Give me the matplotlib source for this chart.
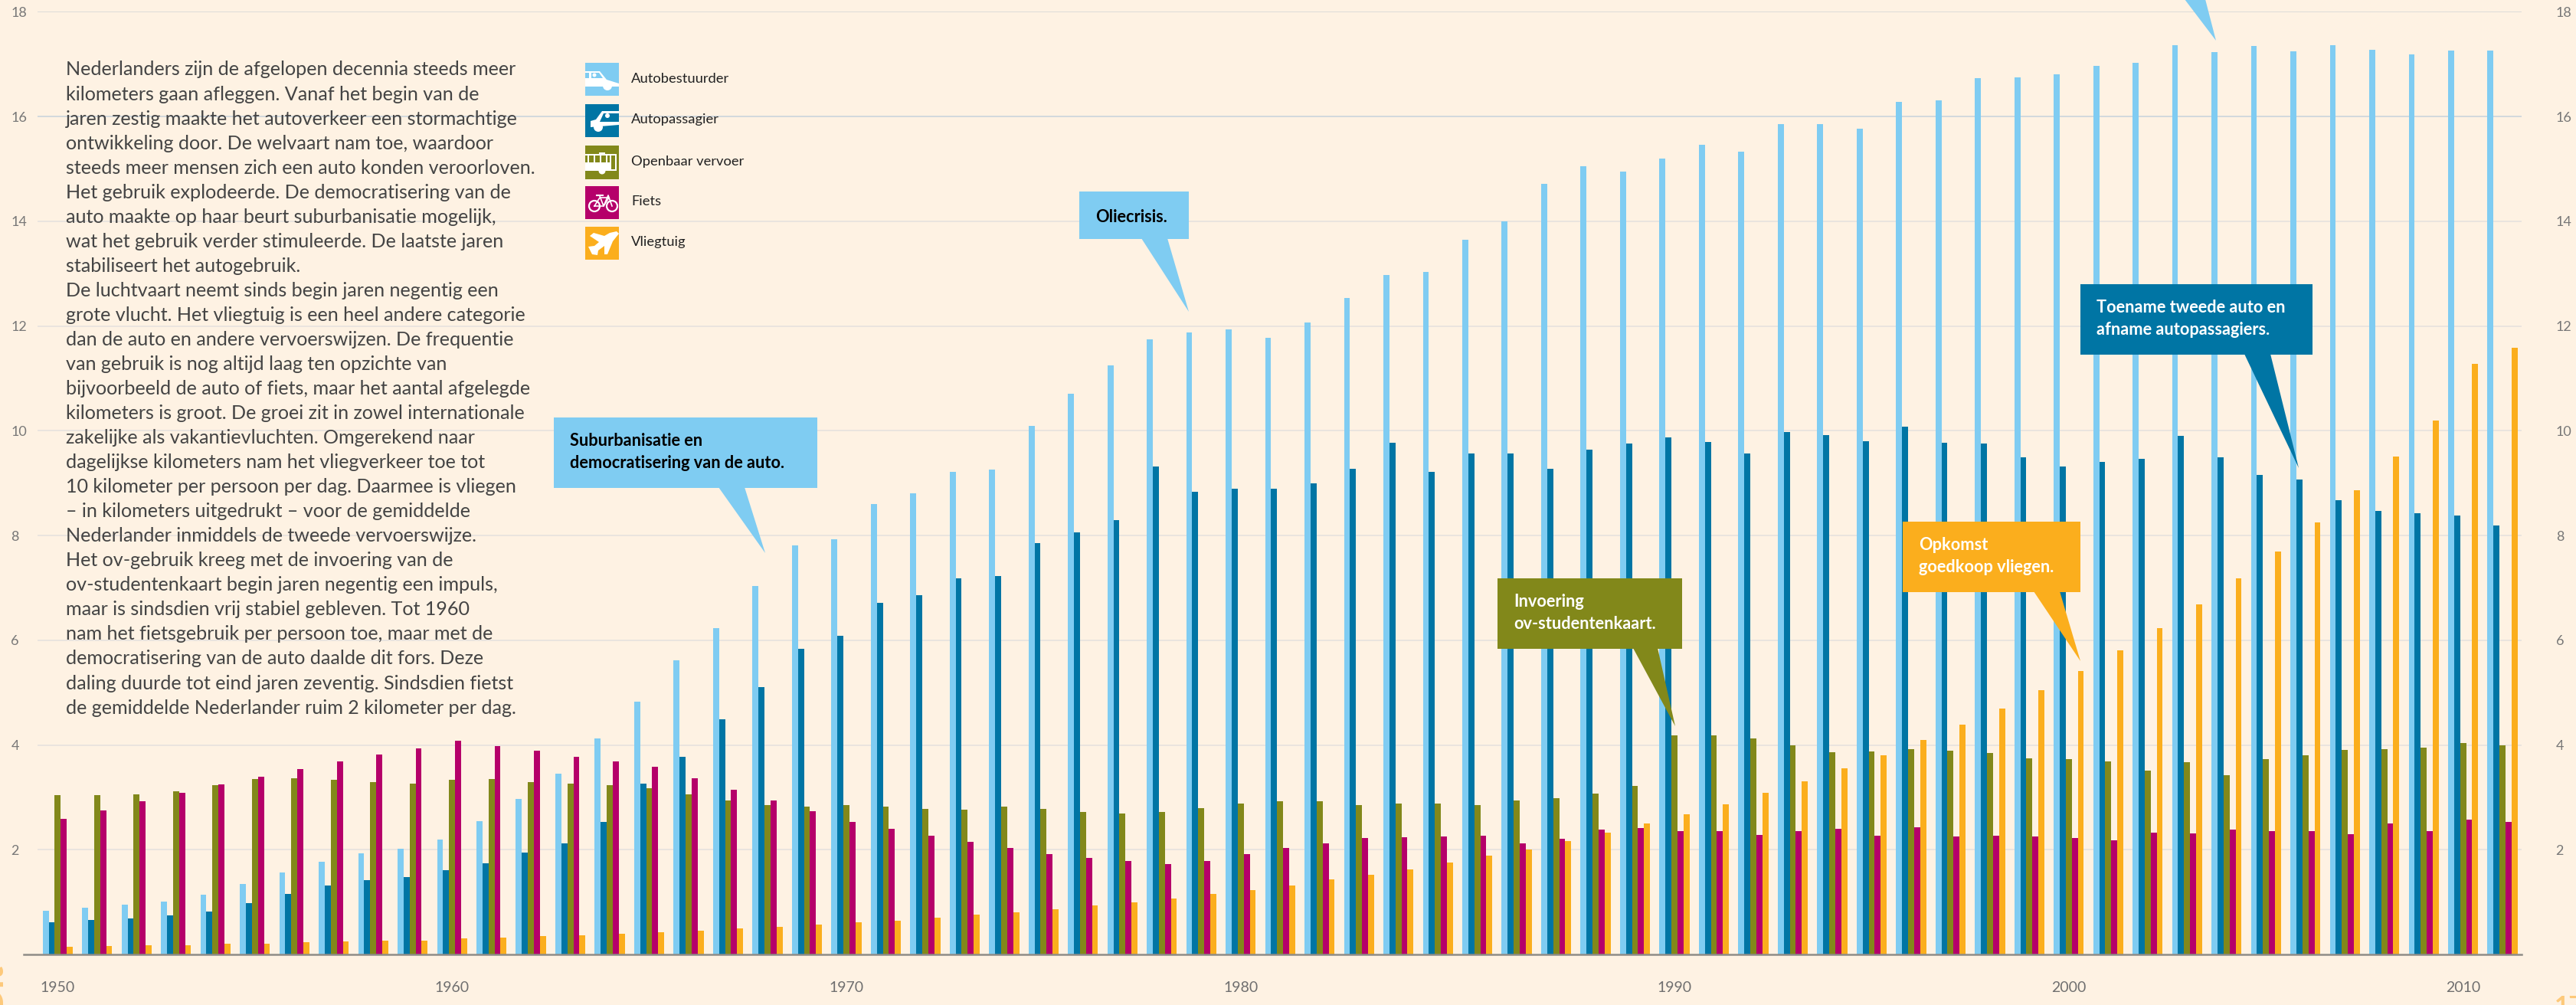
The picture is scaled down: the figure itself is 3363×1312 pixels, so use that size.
import numpy as np
import matplotlib
matplotlib.use("Agg")
import matplotlib.pyplot as plt
from matplotlib.patches import Polygon, Rectangle, Circle

W, H = 3363, 1312

# kilometers per persoon per dag (63 groepen)
autobestuurder = [0.83, 0.89, 0.95, 1.01, 1.14, 1.35, 1.57, 1.77, 1.93, 2.02, 2.20, 2.55, 2.97, 3.45, 4.12, 4.83,
                  5.61, 6.23, 7.03, 7.81, 7.93, 8.60, 8.81, 9.21, 9.26, 10.09,
                  10.70, 11.24, 11.74, 11.88, 11.93, 11.77, 12.07, 12.53, 12.98, 13.03,
                  13.65, 14.00, 14.71, 15.05, 14.95, 15.20, 15.46, 15.33, 15.85, 15.86, 15.76, 16.28, 16.31, 16.73, 16.75,
                  16.80, 16.97, 17.03, 17.36, 17.23, 17.34, 17.25, 17.36, 17.28, 17.19, 17.26, 17.26]
autopassagier = [0.62, 0.66, 0.69, 0.75, 0.82, 0.98, 1.15, 1.31, 1.42, 1.47, 1.61, 1.74, 1.94, 2.12, 2.53, 3.26, 3.78,
                 4.49, 5.11, 5.84, 6.08, 6.72, 6.86, 7.18, 7.23, 7.85, 8.06, 8.29, 9.31, 8.84, 8.89, 8.89, 9.00,
                 9.28, 9.77, 9.22, 9.56, 9.57, 9.28, 9.64,
                 9.75, 9.87, 9.78, 9.57, 9.97, 9.91, 9.80, 10.07, 9.77, 9.75, 9.49, 9.32, 9.40, 9.46, 9.90, 9.49,
                 9.15, 9.07, 8.68, 8.47, 8.43, 8.38, 8.19]
openbaar_vervoer = [3.04, 3.04, 3.06, 3.12, 3.23, 3.35, 3.37, 3.34, 3.29, 3.26, 3.34, 3.35, 3.29, 3.26, 3.23, 3.17,
                    3.06, 2.94, 2.85, 2.82, 2.85,
                    2.83, 2.78, 2.77, 2.83, 2.78, 2.72, 2.69, 2.72, 2.79, 2.88, 2.92, 2.93, 2.85, 2.88, 2.88, 2.85,
                    2.94, 2.98, 3.07, 3.22, 4.19,
                    4.19, 4.13, 3.99, 3.86, 3.87, 3.92, 3.89, 3.85, 3.74, 3.73, 3.69, 3.51, 3.67, 3.42, 3.73, 3.81,
                    3.91, 3.92, 3.95, 4.03, 3.99]
fiets = [2.59, 2.75, 2.92, 3.08, 3.25, 3.39, 3.54, 3.68, 3.82, 3.94, 4.08, 3.98, 3.89, 3.78, 3.68, 3.58, 3.36, 3.14,
         2.94, 2.74, 2.53,
         2.40, 2.27, 2.15, 2.03, 1.91, 1.84, 1.79, 1.73, 1.78, 1.92, 2.04, 2.12, 2.23, 2.24, 2.25, 2.26, 2.12, 2.21,
         2.38, 2.41, 2.35,
         2.35, 2.28, 2.36, 2.40, 2.26, 2.43, 2.25, 2.26, 2.25, 2.23, 2.18, 2.33, 2.31, 2.39, 2.35, 2.36, 2.29, 2.50,
         2.35, 2.57, 2.53]
vliegtuig = [0.15, 0.16, 0.17, 0.18, 0.20, 0.21, 0.23, 0.25, 0.26, 0.27, 0.30, 0.32, 0.35, 0.37, 0.40, 0.42, 0.46,
             0.49, 0.52, 0.57, 0.61,
             0.65, 0.70, 0.76, 0.80, 0.87, 0.93, 0.99, 1.07, 1.15, 1.23, 1.32, 1.43, 1.52, 1.63, 1.75, 1.88, 2.01,
             2.16, 2.33, 2.50, 2.68,
             2.87, 3.08, 3.31, 3.55, 3.81, 4.09, 4.39, 4.70, 5.05, 5.41, 5.81, 6.23, 6.68, 7.18, 7.69, 8.25, 8.86,
             9.51, 10.19, 11.27, 11.58]

series = [autobestuurder, autopassagier, openbaar_vervoer, fiets, vliegtuig]
namen = ["Autobestuurder", "Autopassagier", "Openbaar vervoer", "Fiets", "Vliegtuig"]
kleuren = ["#7FCCF2", "#0075A4", "#82881A", "#B5006A", "#FBAE1D"]

jaar_labels = ["1950", "1960", "1970", "1980", "1990", "2000", "2010"]
jaar_groepen = [0, 10, 20, 30, 41, 51, 61]
y_ticks = [2, 4, 6, 8, 10, 12, 14, 16, 18]
grid_kleuren = ["#E6E2DD"] * 7 + ["#CBD4DC", "#D8D8D6"]

tekst = [
    "Nederlanders zijn de afgelopen decennia steeds meer",
    "kilometers gaan afleggen. Vanaf het begin van de",
    "jaren zestig maakte het autoverkeer een stormachtige",
    "ontwikkeling door. De welvaart nam toe, waardoor",
    "steeds meer mensen zich een auto konden veroorloven.",
    "Het gebruik explodeerde. De democratisering van de",
    "auto maakte op haar beurt suburbanisatie mogelijk,",
    "wat het gebruik verder stimuleerde. De laatste jaren",
    "stabiliseert het autogebruik.",
    "De luchtvaart neemt sinds begin jaren negentig een",
    "grote vlucht. Het vliegtuig is een heel andere categorie",
    "dan de auto en andere vervoerswijzen. De frequentie",
    "van gebruik is nog altijd laag ten opzichte van",
    "bijvoorbeeld de auto of fiets, maar het aantal afgelegde",
    "kilometers is groot. De groei zit in zowel internationale",
    "zakelijke als vakantievluchten. Omgerekend naar",
    "dagelijkse kilometers nam het vliegverkeer toe tot",
    "10 kilometer per persoon per dag. Daarmee is vliegen",
    "\u2013 in kilometers uitgedrukt \u2013 voor de gemiddelde",
    "Nederlander inmiddels de tweede vervoerswijze.",
    "Het ov-gebruik kreeg met de invoering van de",
    "ov-studentenkaart begin jaren negentig een impuls,",
    "maar is sindsdien vrij stabiel gebleven. Tot 1960",
    "nam het fietsgebruik per persoon toe, maar met de",
    "democratisering van de auto daalde dit fors. Deze",
    "daling duurde tot eind jaren zeventig. Sindsdien fietst",
    "de gemiddelde Nederlander ruim 2 kilometer per dag.",
]

# box (x0, y0, x1, y1), pointer (basis links, basis rechts, punt), regels, kleur, tekstkleur (in pixels)
callouts = [
    ((723, 545, 1067, 637), (938, 972, (999, 722)), ["Suburbanisatie en", "democratisering van de auto."], 744, "#7FCCF2", "#000000"),
    ((1409, 250, 1552, 312), (1490, 1524, (1552, 407)), ["Oliecrisis."], 1430, "#7FCCF2", "#000000"),
    ((1955, 755, 2196, 847), (2132, 2164, (2187, 948)), ["Invoering", "ov-studentenkaart."], 1976, "#82881A", "#FFFFFF"),
    ((2484, 681, 2716, 773), (2655, 2689, (2716, 863)), ["Opkomst", "goedkoop vliegen."], 2505, "#FBAE1D", "#FFFFFF"),
    ((2716, 371, 3019, 463), (2930, 2964, (3001, 611)), ["Toename tweede auto en", "afname autopassagiers."], 2737, "#0075A4", "#FFFFFF"),
]

plt.rcParams["font.family"] = ["Lato", "DejaVu Sans"]
BG = "#FEF2E3"
fig = plt.figure(figsize=(W / 100, H / 100), dpi=100, facecolor=BG)

# grafiek-assen: baseline op y=1246, 18 op y=15.3, eerste staaf op x=55.7, 51.48 px per groep
links, rechts, onder, boven = 31, 3292, 1246, 15.3
ax = fig.add_axes([links / W, 1 - onder / H, (rechts - links) / W, (onder - boven) / H])
ax.set_facecolor("none")
pitch = 51.48
ax.set_xlim((links - 55.7) / pitch, (rechts - 55.7) / pitch)
ax.set_ylim(0, 18)

for y, c in zip(y_ticks, grid_kleuren):
    ax.hlines(y, (49 - 55.7) / pitch, (rechts - 55.7) / pitch, color=c, lw=1.2, zorder=1)

groepen = np.arange(len(autobestuurder))
bw = 7.86 / pitch
for i, (vals, c) in enumerate(zip(series, kleuren)):
    ax.bar(groepen + i * bw, vals, width=bw, align="edge", color=c, lw=0, zorder=2)

for s in ["top", "left", "right"]:
    ax.spines[s].set_visible(False)
ax.spines["bottom"].set_color("#8F8C87")
ax.spines["bottom"].set_linewidth(1.8)
ax.spines["bottom"].set_zorder(3)

ax.set_xticks(np.array(jaar_groepen) + 2.5 * bw)
ax.set_xticklabels(jaar_labels, fontsize=14, color="#6F6F6F")
ax.tick_params(axis="x", length=0, pad=25)
ax.set_yticks(y_ticks)
ax.tick_params(axis="y", length=0, labelsize=13, labelcolor="#777777", labelleft=True, labelright=True)
ax.tick_params(axis="y", which="major", left=False, right=False)
for lab in ax.get_yticklabels():
    lab.set_ha("left")
ax.tick_params(axis="y", pad=12)
for t in ax.yaxis.get_major_ticks():
    t.label2.set_ha("left")
    t.set_pad(12)
    t.label2.set_x(1 + 28 / (rechts - links))

# overlay in pixelcoordinaten voor tekst, legenda en callouts
ov = fig.add_axes([0, 0, 1, 1])
ov.set_xlim(0, W)
ov.set_ylim(H, 0)
ov.axis("off")
ov.patch.set_alpha(0)

for i, regel in enumerate(tekst):
    ov.text(86, 91 + i * 32.04, regel, fontsize=18.1, color="#444444", va="center", ha="left")


def icon_car1(x, y, c):
    ov.add_patch(Polygon([(x, y + 11), (x + 19, y + 11), (x + 28, y + 22), (x + 44, y + 27),
                          (x + 44, y + 31), (x, y + 31)], fc="white", lw=0, zorder=6))
    ov.add_patch(Circle((x + 29, y + 30), 6, fc="white", lw=0, zorder=6))
    ov.add_patch(Rectangle((x, y + 13), 5, 7, fc=c, lw=0, zorder=7))
    ov.add_patch(Polygon([(x + 8, y + 13), (x + 18, y + 13), (x + 23, y + 20), (x + 8, y + 20)], fc=c, lw=0, zorder=7))
    ov.add_patch(Circle((x + 12, y + 16), 2.5, fc="white", lw=0, zorder=8))


def icon_car2(x, y, c):
    ov.add_patch(Polygon([(x + 7, y + 22), (x + 14, y + 20), (x + 22, y + 9), (x + 44, y + 9),
                          (x + 44, y + 27), (x + 7, y + 30)], fc="white", lw=0, zorder=6))
    ov.add_patch(Circle((x + 17, y + 30), 6, fc="white", lw=0, zorder=6))
    ov.add_patch(Polygon([(x + 24, y + 12), (x + 44, y + 12), (x + 44, y + 23), (x + 19, y + 23)], fc=c, lw=0, zorder=7))
    ov.add_patch(Circle((x + 29, y + 15), 3, fc="white", lw=0, zorder=8))


def icon_bus(x, y, c):
    ov.add_patch(Rectangle((x, y + 11), 41, 22, fc="white", lw=0, zorder=6))
    ov.add_patch(Rectangle((x + 18, y + 9), 8, 3, fc="white", lw=0, zorder=6))
    for x0, w in [(0, 3), (5, 6), (13, 6), (21, 6), (29, 3), (34, 5)]:
        ov.add_patch(Rectangle((x + x0, y + 13), w, 9, fc=c, lw=0, zorder=7))
    ov.add_patch(Rectangle((x + 34, y + 22), 5, 9, fc=c, lw=0, zorder=7))
    ov.add_patch(Circle((x + 22, y + 33), 4.5, fc="white", lw=0, zorder=6))


def icon_bike(x, y, c):
    for cx in (x + 12, x + 35):
        ov.add_patch(Circle((cx, y + 26), 7, fc="none", ec="white", lw=1.6, zorder=6))
    ov.plot([x + 12, x + 19, x + 31, x + 24, x + 12], [y + 26, y + 15, y + 15, y + 26, y + 26], color="white", lw=1.2, zorder=6)
    ov.plot([x + 19, x + 24, x + 30, x + 35], [y + 13, y + 26, y + 12, y + 26], color="white", lw=1.2, zorder=6)
    ov.plot([x + 15, x + 23], [y + 12, y + 12], color="white", lw=1.5, zorder=6)


def icon_plane(x, y, c):
    ov.add_patch(Polygon([(x + 41, y + 6), (x + 44, y + 9), (x + 36, y + 19), (x + 29, y + 36), (x + 25, y + 36),
                          (x + 25, y + 25), (x + 17, y + 31), (x + 16, y + 37), (x + 9, y + 36), (x + 4, y + 26),
                          (x + 12, y + 25), (x + 18, y + 20), (x + 6, y + 12), (x + 11, y + 8), (x + 25, y + 12),
                          (x + 32, y + 8)], fc="white", lw=0, zorder=6))


icons = [icon_car1, icon_car2, icon_bus, icon_bike, icon_plane]
leg_boxes = [(82, 125), (136, 179), (190, 234), (243, 286), (296, 339)]
for naam, c, (y0, y1), icon in zip(namen, kleuren, leg_boxes, icons):
    ov.add_patch(Rectangle((764, y0), 44, y1 - y0, fc=c, lw=0, zorder=5))
    icon(764, y0, c)
    ov.text(824, (y0 + y1) / 2 - 1, naam, fontsize=13.2, color="#222222", va="center", ha="left")

for (x0, y0, x1, y1), (b0, b1, tip), regels, tx, c, tc in callouts:
    ov.add_patch(Rectangle((x0, y0), x1 - x0, y1 - y0, fc=c, lw=0, zorder=10))
    ov.add_patch(Polygon([(b0, y1 - 1), (b1, y1 - 1), tip], fc=c, lw=0, zorder=10))
    for j, r in enumerate(regels):
        ty = (y0 + 31 + j * 28.5) if len(regels) > 1 else (y0 + y1) / 2 + 2
        ov.text(tx, ty, r, fontsize=15.7, fontweight="bold", color=tc, va="center", ha="left", zorder=11)

# punt van de afgesneden callout boven in beeld
ov.add_patch(Polygon([(2852, -1), (2879, -1), (2893, 53)], fc="#7FCCF2", lw=0, zorder=10))

# afgesneden paginatekst aan de randen
ov.text(9, 1322, "Dit", rotation=90, fontsize=34, fontweight="bold", color="#FDC97A", ha="right", va="bottom")
ov.text(3335, 1300, "17", fontsize=24, fontweight="bold", color="#FDC97A", ha="left", va="top")

fig.savefig("out.png", dpi=100, facecolor=BG)
